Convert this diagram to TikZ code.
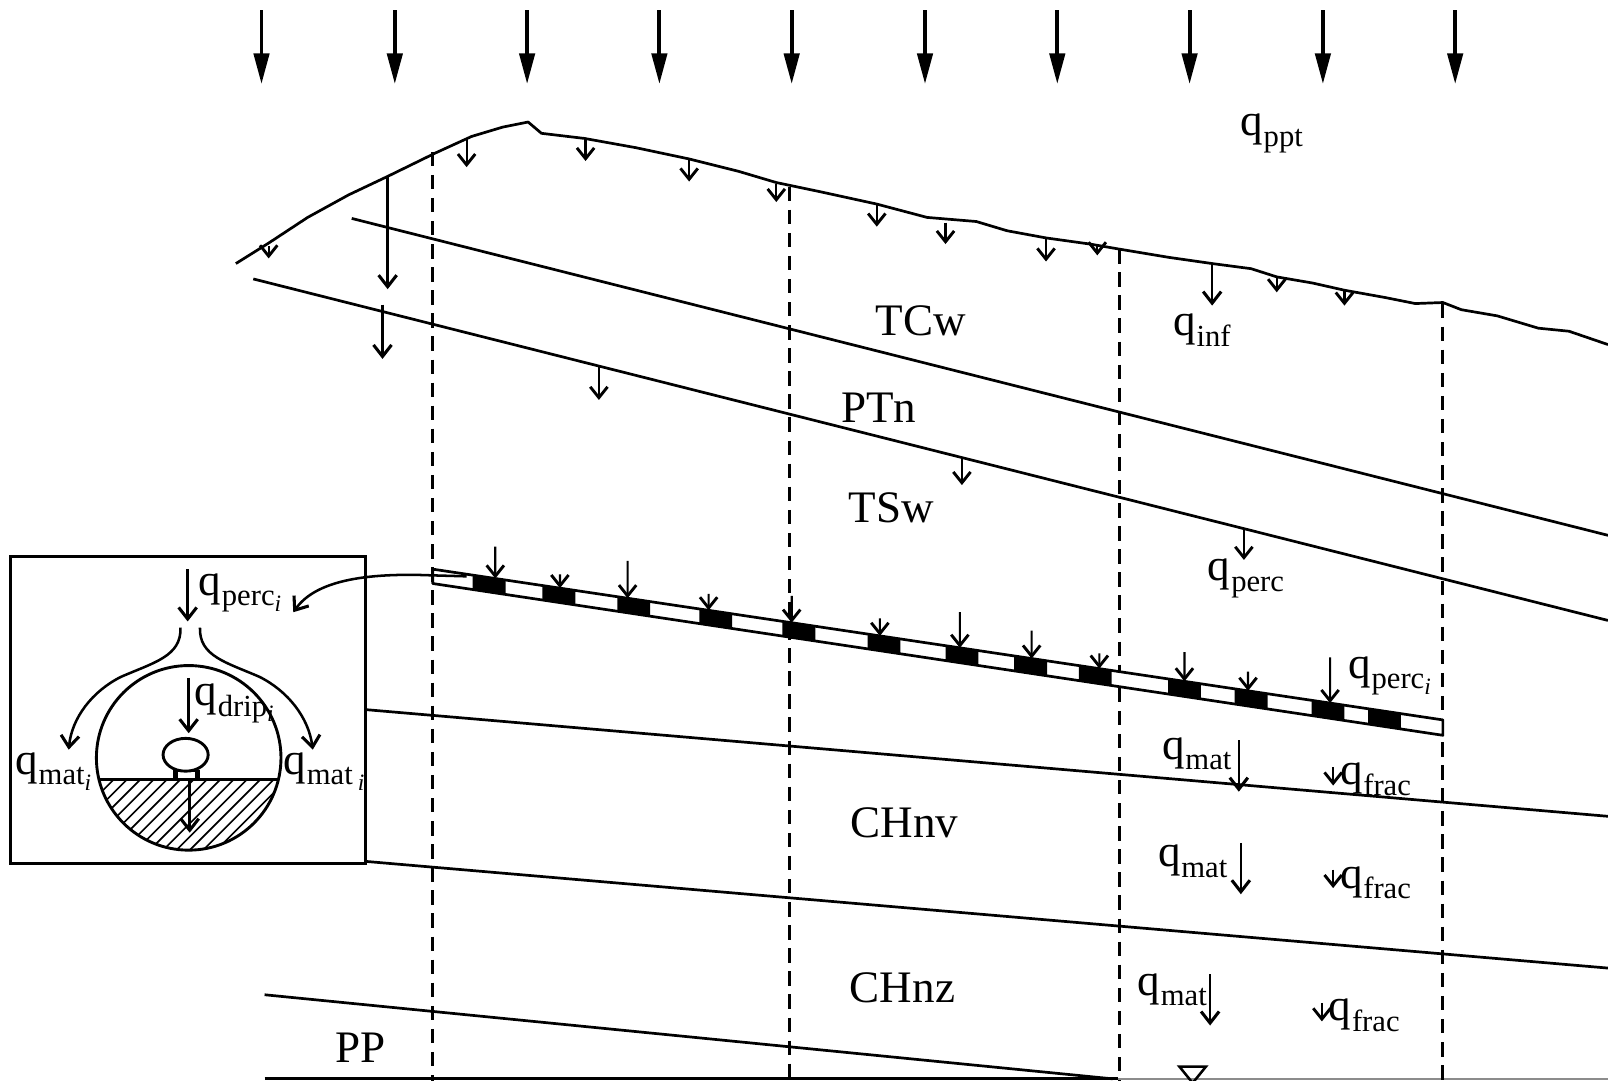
\documentclass[tikz,border=0pt]{standalone}
\usepackage{fontspec}
\setmainfont{Liberation Serif}
\usetikzlibrary{arrows.meta,calc}

% flux symbol q with a lowered subscript, and an italic index i
\newcommand{\qflux}[1]{q\kern0.2pt\raisebox{-0.5ex}{\fontsize{8.5}{9}\selectfont #1}}
\newcommand{\subi}{\raisebox{-0.4ex}{\fontsize{6.5}{7}\selectfont\itshape i}}

\begin{document}
\begin{tikzpicture}[x=0.01cm,y=-0.01cm,
  every node/.style={inner sep=0pt},
  ground/.style={line width=0.75pt, line join=round},
  layer/.style={line width=0.75pt},
  section/.style={line width=0.8pt, dash pattern=on 4pt off 2.4pt},
  rain/.style={line width=1.1pt, -{Triangle[length=8.5pt,width=4.2pt]}},
  flow/.style={line width=0.6pt, -{Straight Barb[length=3pt,width=4.8pt,line width=0.8pt]}},
  bigflow/.style={line width=0.7pt, -{Straight Barb[length=3.2pt,width=5pt,line width=0.85pt]}},
  unitlabel/.style={font=\fontsize{12.5}{15}\selectfont},
  flux/.style={font=\fontsize{12.5}{15}\selectfont},
]
\fill[white] (0,0) rectangle (1568,1054);
\useasboundingbox (0,0) rectangle (1568,1054);

% ---------- precipitation ----------
\foreach \x in {255,385,514,643,772,902,1031,1160,1290,1419}
  \draw[rain] (\x,10) -- (\x,82);
\node[flux] (qppt) at (1240,130) {\qflux{ppt}};

% ---------- ground surface ----------
\draw[ground] (230,257) -- (262,237) -- (300,212) -- (340,190) -- (378,172)
  -- (425,149) -- (460,133) -- (490,124) -- (515,119) -- (528,130) -- (570,135)
  -- (620,144) -- (672,155) -- (720,167) -- (757,178) -- (800,187) -- (855,199)
  -- (904,212) -- (952,216) -- (982,225) -- (1020,232) -- (1063,238) -- (1092,243)
  -- (1140,251) -- (1182,257) -- (1220,262) -- (1245,270) -- (1280,276)
  -- (1311,283) -- (1350,290) -- (1380,296) -- (1407,295) -- (1425,302)
  -- (1460,308) -- (1500,320) -- (1530,323) -- (1568,336);

% infiltration arrows below the surface
\foreach \x/\a/\b in {262/240/252, 455/136/163, 571/137/157, 672/156/177,
    757/179/197, 855/199/221, 922/217/238, 1020/233/255, 1070/238/249,
    1245/271/285, 1311/284/298}
  \draw[flow] (\x,\a) -- (\x,\b);
\draw[bigflow] (378,172) -- (378,282);
\draw[bigflow] (1182,257) -- (1182,298);
\node[flux] (qinf) at (1172,322) {\qflux{inf}};

% ---------- stratigraphic contacts ----------
\coordinate (c1a) at (343,213);  \coordinate (c1b) at (1568,522);
\coordinate (c2a) at (247,272);  \coordinate (c2b) at (1568,605);
\coordinate (c3a) at (357,692);  \coordinate (c3b) at (1568,796);
\coordinate (c4a) at (357,840);  \coordinate (c4b) at (1568,944);
\coordinate (c5a) at (258,970);  \coordinate (c5b) at (1085,1052);
\draw[layer] (c1a) -- (c1b);
\draw[layer] (c2a) -- (c2b);
\draw[layer] (c3a) -- (c3b);
\draw[layer] (c4a) -- (c4b);
\draw[layer] (c5a) -- (c5b);
\coordinate (wta) at (258,1052); \coordinate (wtm) at (1090,1052); \coordinate (wtb) at (1568,1052);
\draw[layer] (wta) -- (wtm);
\draw[line width=0.4pt, black!45] (wtm) -- (wtb);

\node[unitlabel] (tcw)  at (898,313)  {TCw};
\node[unitlabel] (ptn)  at (857,398)  {PTn};
\node[unitlabel] (tsw)  at (869,495)  {TSw};
\node[unitlabel] (chnv) at (882,802)  {CHnv};
\node[unitlabel] (chnz) at (880,963)  {CHnz};
\node[unitlabel] (pp)   at (352,1022) {PP};

% percolation arrows below the PTn contact
\draw[bigflow] (373,297) -- (373,350);
\foreach \x/\a/\b in {584/357/390, 938/446/473, 1213/516/546}
  \draw[flow] (\x,\a) -- (\x,\b);
\node[flux] (qperc) at (1215,564) {\qflux{perc}};

% ---------- vertical sections ----------
\foreach \x/\t in {422/148, 770/182, 1092/243, 1407/296}
  \draw[section] (\x,\t) -- (\x,1054);

% ---------- emplacement drift ----------
\coordinate (dtl) at (422,555);  \coordinate (dtr) at (1407,702);
\coordinate (dbl) at (422,569);  \coordinate (dbr) at (1407,717);
\fill[white] (dtl) -- (dtr) -- (dbr) -- (dbl) -- cycle;
\foreach \c in {477,545,618,698,779,862,938,1005,1068,1155,1220,1295,1350}
  \fill ($(dtl)!{(\c-16-422)/985}!(dtr)$) -- ($(dtl)!{(\c+16-422)/985}!(dtr)$)
     -- ($(dbl)!{(\c+16-422)/985}!(dbr)$) -- ($(dbl)!{(\c-16-422)/985}!(dbr)$) -- cycle;
\draw[line width=0.75pt, line join=round] (dtl) -- (dtr) -- (dbr) -- (dbl) -- cycle;

\foreach \x/\s in {483/533, 546/560, 612/547, 691/579, 772/581, 858/603,
    936/597, 1006/615, 1072/637, 1155/636, 1217/655, 1297/641}
  \draw[flow] (\x,\s) -- ($(dtl)!{(\x-422)/985}!(dtr)$);
\node[flux] (qperci) at (1355,659) {\qflux{perc\subi}};

% ---------- flow below the drift ----------
\foreach \x/\a/\b in {1208/722/772, 1210/822/872, 1180/950/1000}
  \draw[bigflow] (\x,\a) -- (\x,\b);
\node[flux] (qmat1) at (1167,735) {\qflux{mat}};
\node[flux] (qmat2) at (1163,840) {\qflux{mat}};
\node[flux] (qmat3) at (1143,965) {\qflux{mat}};
\foreach \x/\a/\b in {1300/748/766, 1300/848/866, 1289/978/996}
  \draw[flow] (\x,\a) -- (\x,\b);
\node[flux, anchor=west] (qfrac1) at (1306,760) {\qflux{frac}};
\node[flux, anchor=west] (qfrac2) at (1306,861) {\qflux{frac}};
\node[flux, anchor=west] (qfrac3) at (1295,990) {\qflux{frac}};

% water table symbol
\draw[line width=0.7pt] (1150,1040) -- (1176,1040) -- (1163,1056) -- cycle;

% ---------- inset: drift cross-section ----------
\node[draw, line width=0.8pt, minimum width=3.46cm, minimum height=2.99cm,
      anchor=north west, outer sep=0pt] (inset) at (10,543) {};

\coordinate (lnk) at (455,562);
\draw[bigflow] (lnk) -- (420,561) .. controls (345,558) and (305,570) .. (286,597);

\draw[bigflow] (183,555) -- (183,606);
\node[flux, anchor=west] (qperc0) at (193,578) {\qflux{perc\subi}};

\draw[bigflow] (176,612) .. controls (177,640) and (150,646) .. (118,660)
               .. controls (90,674) and (70,700) .. (67,731);
\draw[bigflow] (195,612) .. controls (194,640) and (221,646) .. (253,660)
               .. controls (281,674) and (301,700) .. (305,731);
\node[flux] (qmatl) at (52,752) {\qflux{mat\subi}};
\node[flux] (qmatr) at (316,752) {\qflux{mat\,\subi}};

% invert fill (hatched)
\begin{scope}
  \clip (184,739) circle (90);
  \clip (80,760) rectangle (290,840);
  \foreach \k in {0,13,...,300}
    \draw[line width=0.45pt] (\k-60,840) -- ++(110,-110);
\end{scope}
\draw[line width=0.8pt] (184,739) circle (90);
\draw[line width=0.8pt] (96,760) -- (272,760);

% waste package on its pedestal
\draw[line width=0.8pt, fill=white] (181,736) ellipse (22 and 16);
\draw[line width=0.6pt] (170,752) rectangle (194,760);
\fill (170,752) rectangle (174,760);
\fill (190,752) rectangle (194,760);

\draw[bigflow] (184,661) -- (184,715);
\node[flux, anchor=west] (qdrip) at (189,686) {\qflux{drip\subi}};
\draw[bigflow] (185,760) -- (185,812);

\end{tikzpicture}
\end{document}
